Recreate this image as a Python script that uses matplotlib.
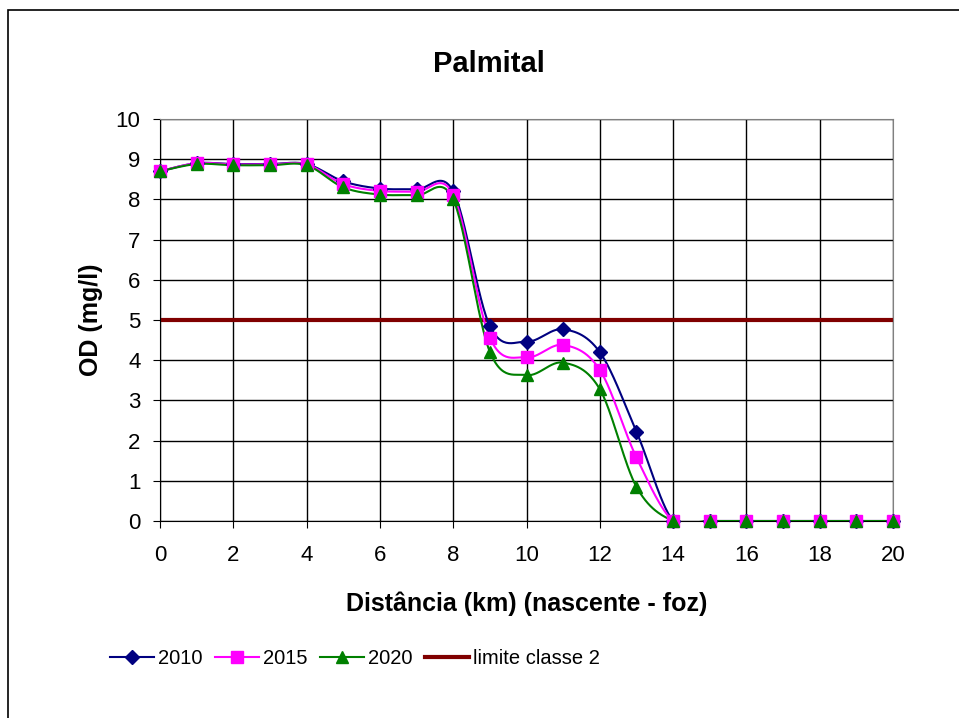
import numpy as np
import matplotlib
matplotlib.use('Agg')
import matplotlib.pyplot as plt
from matplotlib.patches import Rectangle

plt.rcParams['font.family'] = ['Liberation Sans', 'DejaVu Sans']

distancia = list(range(0, 21))
od_2010 = [8.70, 8.90, 8.88, 8.88, 8.88, 8.45, 8.27, 8.25, 8.20, 4.85, 4.46,
           4.77, 4.20, 2.22, 0, 0, 0, 0, 0, 0, 0]
od_2015 = [8.70, 8.90, 8.87, 8.87, 8.87, 8.38, 8.21, 8.19, 8.12, 4.56, 4.07,
           4.38, 3.76, 1.58, 0, 0, 0, 0, 0, 0, 0]
od_2020 = [8.70, 8.88, 8.85, 8.85, 8.85, 8.30, 8.12, 8.10, 8.00, 4.21, 3.63,
           3.94, 3.28, 0.85, 0, 0, 0, 0, 0, 0, 0]
limite = 5.0


def suaviza(x, y, n=30):
    # curva suavizada tipo Excel (Bezier com pontos de controle de Catmull-Rom)
    x = np.asarray(x, float)
    y = np.asarray(y, float)
    px = np.concatenate([[x[0]], x, [x[-1]]])
    py = np.concatenate([[y[0]], y, [y[-1]]])
    xs, ys = [], []
    t = np.linspace(0, 1, n)
    for i in range(1, len(px) - 2):
        p0 = np.array([px[i], py[i]])
        p3 = np.array([px[i + 1], py[i + 1]])
        c1 = p0 + (np.array([px[i + 1], py[i + 1]]) - np.array([px[i - 1], py[i - 1]])) / 6
        c2 = p3 - (np.array([px[i + 2], py[i + 2]]) - np.array([px[i], py[i]])) / 6
        b = ((1 - t) ** 3)[:, None] * p0 + (3 * (1 - t) ** 2 * t)[:, None] * c1 \
            + (3 * (1 - t) * t ** 2)[:, None] * c2 + (t ** 3)[:, None] * p3
        xs.extend(b[:, 0])
        ys.extend(b[:, 1])
    return xs, ys


fig = plt.figure(figsize=(9.59, 7.18), dpi=100)
fig.patches.append(Rectangle((8 / 959, -0.05), 1.0, 1 - 10 / 718 + 0.05,
                             transform=fig.transFigure, fill=False,
                             edgecolor='black', linewidth=1.2))
ax = fig.add_axes([160 / 959, 1 - 521 / 718, 733 / 959, 402 / 718])

series = [(od_2010, '2010', '#000080', 'D', 7),
          (od_2015, '2015', '#FF00FF', 's', 8),
          (od_2020, '2020', '#008000', '^', 9)]
handles = []
for y, nome, cor, mk, ms in series:
    sx, sy = suaviza(distancia, y)
    ax.plot(sx, sy, color=cor, linewidth=1.5, zorder=3)
    ax.plot(distancia, y, linestyle='none', marker=mk, markersize=ms,
            color=cor, zorder=4, clip_on=False)
    h, = ax.plot([], [], color=cor, linewidth=1.5, marker=mk, markersize=ms)
    h.set_label(nome)
    handles.append(h)

hl, = ax.plot([distancia[0], distancia[-1]], [limite, limite], color='#800000',
              linewidth=3, zorder=2, label='limite classe 2')
handles.append(hl)

ax.set_xlim(0, 20)
ax.set_ylim(0, 10)
ax.set_xticks(range(0, 21, 2))
ax.set_yticks(range(0, 11))
ax.grid(True, color='black', linewidth=1)
ax.set_axisbelow(True)
ax.tick_params(axis='both', labelsize=16, length=5, color='black')
ax.tick_params(axis='y', pad=9)
ax.tick_params(axis='x', pad=12)
for s in ['top', 'right']:
    ax.spines[s].set_color('#808080')

fig.text(489 / 959, 1 - 72 / 718, 'Palmital', fontsize=21, fontweight='bold',
         ha='center', va='baseline')
ax.set_xlabel('Distância (km) (nascente - foz)', fontsize=18, fontweight='bold', labelpad=19)
ax.set_ylabel('OD (mg/l)', fontsize=18, fontweight='bold', labelpad=9)

fig.legend(handles=handles, loc='center', bbox_to_anchor=(355 / 959, 1 - 659 / 718),
           ncol=4, frameon=False, fontsize=14.5, handlelength=2.2,
           handletextpad=0.2, columnspacing=0.6)

fig.savefig('out.png', dpi=100)
